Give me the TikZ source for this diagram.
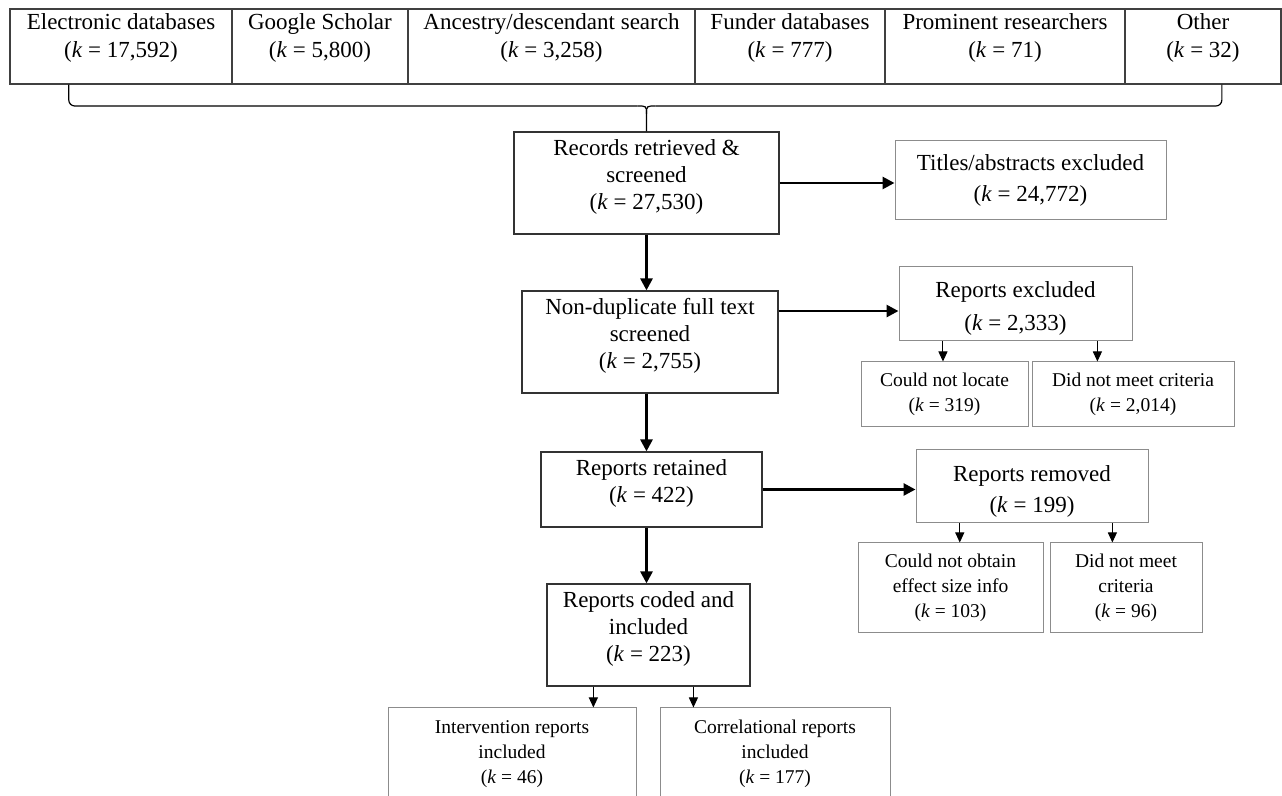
\documentclass[tikz,border=0pt]{standalone}
\usepackage{fontspec}
\setmainfont{Liberation Serif}
\usetikzlibrary{arrows.meta,calc}

\tikzset{
  srcbox/.style={draw=black!75, line width=0.6pt, minimum height=37.5pt, align=center, inner sep=0pt, font=\fontsize{11.5}{14}\selectfont},
  mainbox/.style={draw=black!80, line width=0.6pt, align=center, inner sep=0pt, font=\fontsize{11.5}{13.5}\selectfont},
  sidebox/.style={draw=black!45, line width=0.5pt, align=center, inner sep=0pt, font=\fontsize{11.5}{15.5}\selectfont},
  subbox/.style={draw=black!45, line width=0.5pt, align=center, inner sep=0pt, font=\fontsize{9.75}{12.5}\selectfont},
  flow/.style={line width=1.4pt, -{Triangle[length=6pt,width=6pt]}},
  split/.style={line width=0.5pt, -{Triangle[length=5pt,width=4.5pt]}},
}
\newcommand{\kval}[1]{(\textit{k} = #1)}
\newcommand{\lift}[1]{\\[#1]\mbox{}}
\newcommand{\drop}[1]{\mbox{}\\[#1]}

\begin{document}
\begin{tikzpicture}[x=0.5pt, y=-0.5pt]
	\useasboundingbox (0,0) rectangle (1282,796);
	\clip (0,0) rectangle (1282,796);
	% sources
	\node[srcbox, minimum width=111pt] (src1) at (121,46.5) {Electronic databases\\\kval{17,592}\lift{-3pt}};
	\node[srcbox, minimum width=88pt] (src2) at (320,46.5) {Google Scholar\\\kval{5,800}\lift{-3pt}};
	\node[srcbox, minimum width=143.5pt] (src3) at (551.5,46.5) {Ancestry/descendant search\\\kval{3,258}\lift{-3pt}};
	\node[srcbox, minimum width=95pt] (src4) at (790,46.5) {Funder databases\\\kval{777}\lift{-3pt}};
	\node[srcbox, minimum width=120pt] (src5) at (1005,46.5) {Prominent researchers\\\kval{71}\lift{-3pt}};
	\node[srcbox, minimum width=78pt] (src6) at (1203,46.5) {Other\\\kval{32}\lift{-3pt}};
	% main flow
	\node[mainbox, minimum width=132.5pt, minimum height=51pt] (rec) at (646.5,183) {Records retrieved \&\\screened\\\kval{27,530}\lift{-5.5pt}};
	\node[mainbox, minimum width=128pt, minimum height=51pt] (nondup) at (650,342) {Non-duplicate full text\\screened\\\kval{2,755}\lift{-5pt}};
	\node[mainbox, minimum width=110.5pt, minimum height=37.5pt] (retained) at (651.5,489.5) {Reports retained\\\kval{422}\lift{-5pt}};
	\node[mainbox, minimum width=101.5pt, minimum height=51pt] (coded) at (648.5,635) {Reports coded and\\included\\\kval{223}\lift{-5.5pt}};
	% exclusions
	\node[sidebox, minimum width=135.5pt, minimum height=39.5pt] (title) at (1030.5,180.5) {Titles/abstracts excluded\\\kval{24,772}};
	\node[sidebox, minimum width=116.5pt, minimum height=37pt] (excl) at (1015.5,304) {\drop{-3.5pt}Reports excluded\\[1pt]\kval{2,333}};
	\node[sidebox, minimum width=116pt, minimum height=36.5pt] (removed) at (1032,486.5) {\drop{-2.5pt}Reports removed\\\kval{199}};
	\node[subbox, minimum width=83.5pt, minimum height=32.5pt] (locate) at (944.5,394.5) {Could not locate\\\kval{319}};
	\node[subbox, minimum width=101pt, minimum height=32.5pt] (unmet1) at (1133,394.5) {Did not meet criteria\\\kval{2,014}};
	\node[subbox, minimum width=92.5pt, minimum height=45pt] (obtain) at (950.5,588) {Could not obtain\\effect size info\\\kval{103}};
	\node[subbox, minimum width=76pt, minimum height=45pt] (unmet2) at (1126,588) {Did not meet\\criteria\\\kval{96}};
	\node[subbox, minimum width=124pt, minimum height=46pt] (interv) at (512,754) {Intervention reports\\included\\\kval{46}};
	\node[subbox, minimum width=115pt, minimum height=46pt] (correl) at (775,754) {Correlational reports\\included\\\kval{177}};
	% brace
	\coordinate (bl) at ($(src1.south west)!0.266!(src1.south east)$);
	\coordinate (br) at ($(src6.south west)!0.62!(src6.south east)$);
	\coordinate (bm) at (rec.north |- 0,106);
	\draw[line width=0.6pt, rounded corners=3pt] (bl) |- ($(bm)+(-9,0)$);
	\draw[line width=0.6pt, rounded corners=3pt] (br) |- ($(bm)+(9,0)$);
	\draw[line width=0.6pt] ($(bm)+(-9,0)$) .. controls (bm) .. ($(bm)+(0,8)$) -- (rec.north);
	\draw[line width=0.6pt] ($(bm)+(9,0)$) .. controls (bm) .. ($(bm)+(0,8)$);
	% arrows
	\draw[flow] (rec.south) -- (rec.south |- nondup.north);
	\draw[flow] (nondup.south -| rec.south) -- (rec.south |- retained.north);
	\draw[flow] (retained.south -| rec.south) -- (rec.south |- coded.north);
	\draw[flow] (rec.east) -- (rec.east -| title.west);
	\coordinate (nd) at ($(nondup.north east)!0.2!(nondup.south east)$);
	\draw[flow] (nd) -- (nd -| excl.west);
	\draw[flow] (retained.east) -- (retained.east -| removed.west);
	\coordinate (e1) at ($(excl.south west)!0.19!(excl.south east)$);
	\coordinate (e2) at ($(excl.south west)!0.85!(excl.south east)$);
	\draw[split] (e1) -- (e1 |- locate.north);
	\draw[split] (e2) -- (e2 |- unmet1.north);
	\coordinate (r1) at ($(removed.south west)!0.19!(removed.south east)$);
	\coordinate (r2) at ($(removed.south west)!0.845!(removed.south east)$);
	\draw[split] (r1) -- (r1 |- obtain.north);
	\draw[split] (r2) -- (r2 |- unmet2.north);
	\coordinate (c1) at ($(coded.south west)!0.23!(coded.south east)$);
	\coordinate (c2) at ($(coded.south west)!0.72!(coded.south east)$);
	\draw[split] (c1) -- (c1 |- interv.north);
	\draw[split] (c2) -- (c2 |- correl.north);
\end{tikzpicture}
\end{document}
